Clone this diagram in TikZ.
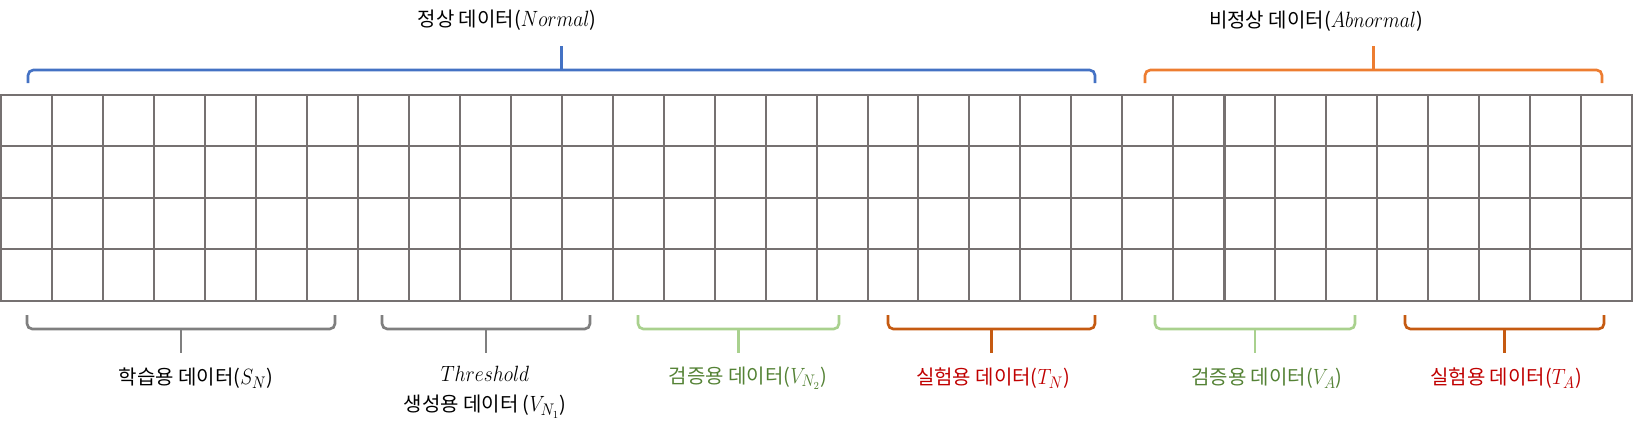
\documentclass[tikz,border=0pt]{standalone}
\usepackage{fontspec}
\setmainfont{Noto Sans CJK KR}
\usepackage{amsmath}
\usepackage{graphicx}
\usepackage{xcolor}

\definecolor{gridgray}{HTML}{767171}
\definecolor{bracegray}{HTML}{7F7F7F}
\definecolor{normalblue}{HTML}{4472C4}
\definecolor{abnormalorange}{HTML}{ED7D31}
\definecolor{validgreen}{HTML}{A9D18E}
\definecolor{testorange}{HTML}{C55A11}
\definecolor{validtext}{HTML}{548235}
\definecolor{testtext}{HTML}{C00000}

\tikzset{
  gridline/.style={draw=gridgray, line width=1.5pt},
  bracestyle/.style={line width=2pt},
  datalabel/.style={font=\fontsize{15}{21}\selectfont, inner sep=0pt, align=center}
}

% math symbols a bit taller, like the original's math font
\newcommand{\mvar}[1]{\scalebox{1.02}[1.15]{$#1$}}

% brace: [colour] {x left}{x right}{y of ends}{y of line}{y of tip}
\newcommand{\databrace}[6][]{%
  \draw[bracestyle,#1,rounded corners=4pt] (#2,#4) -- (#2,#5) -- (#3,#5) -- (#3,#4);
  \draw[bracestyle,#1] ({(#2+#3)/2},#5) -- ({(#2+#3)/2},#6);
}

\begin{document}
\begin{tikzpicture}[x=0.75pt,y=-0.75pt]
  \useasboundingbox (0,0) rectangle (1633,430);

  % Draw the data grid
  \foreach \i in {0,...,32}
    \draw[gridline] ({1+\i*50.97},95) -- ({1+\i*50.97},300.7);
  \foreach \j in {0,...,4}
    \draw[gridline] (0,{95+\j*51.42}) -- (1633,{95+\j*51.42});
  \draw[gridline, line width=2.3pt] ({1+24*50.97},95) -- ({1+24*50.97},300.7);

  % Draw the top braces
  \databrace[normalblue]{28}{1095}{83}{70}{46}
  \databrace[abnormalorange]{1145}{1602}{83}{70}{46}

  \node[datalabel] (normal) at (507,20) {정상 데이터(\mvar{Normal})};
  \node[datalabel] (abnormal) at (1316,21) {비정상 데이터(\mvar{Abnormal})};

  % Draw the bottom braces
  \databrace[bracegray]{27}{335}{315}{329}{353}
  \databrace[bracegray]{382}{590}{315}{329}{353}
  \databrace[validgreen]{638}{839}{315}{329}{353}
  \databrace[testorange]{888}{1095}{315}{329}{353}
  \databrace[validgreen]{1155}{1355}{315}{329}{353}
  \databrace[testorange]{1405}{1604}{315}{329}{353}

  % Draw the split labels
  \node[datalabel] (train) at (196,378) {학습용 데이터(\mvar{S_N})};
  \node[datalabel] (thresh) at (485,392) {\mvar{Threshold}\\[2pt]생성용 데이터 (\mvar{V_{N_1}})};
  \node[datalabel, text=validtext] (validn) at (748,378) {검증용 데이터(\mvar{V_{N_2}})};
  \node[datalabel, text=testtext] (testn) at (993,378) {실험용 데이터(\mvar{T_N})};
  \node[datalabel, text=validtext] (valida) at (1267,378) {검증용 데이터(\mvar{V_A})};
  \node[datalabel, text=testtext] (testa) at (1506,378) {실험용 데이터(\mvar{T_A})};
\end{tikzpicture}
\end{document}
